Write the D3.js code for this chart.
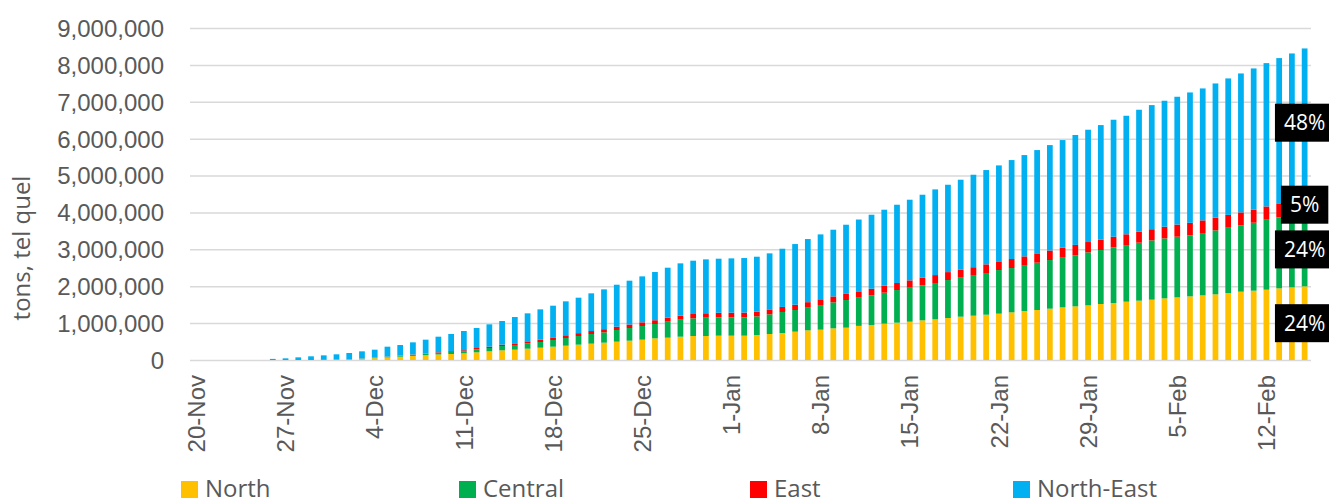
<!DOCTYPE html>
<html>
<head>
<meta charset="utf-8">
<script src="https://cdn.jsdelivr.net/npm/d3@7"></script>
<style>
  body { margin: 0; background: #fff; }
  svg { font-family: "Open Sans", sans-serif; }
</style>
</head>
<body>
<div id="chart"></div>
<script>
// daily cumulative tonnage, thousand tons, 20-Nov .. 15-Feb (88 days)
var north = [0,0,0,0,0,0,0,0,0,0,
  5,8,15,30,50,70,90,110,130,150,
  163,181,208,235,262,280,307,334,361,388,
  416,443,470,497,524,551,587,605,632,650,
  650,659,659,659,677,705,732,768,804,822,
  858,876,925,948,985,1012,1039,1075,1102,1138,
  1174,1201,1228,1256,1292,1328,1355,1391,1427,1454,
  1481,1518,1545,1581,1608,1635,1671,1698,1725,1752,
  1780,1816,1852,1879,1906,1942,1969,1996];

var central = [0,0,0,0,0,0,0,0,0,0,
  0,5,8,10,15,20,25,30,35,45,
  54,54,81,90,117,126,145,154,181,208,
  234,262,280,316,343,370,389,434,461,479,
  497,497,497,497,506,533,569,587,614,668,
  705,750,764,804,840,885,921,948,985,1030,
  1057,1084,1130,1183,1201,1228,1283,1319,1346,1386,
  1437,1463,1508,1535,1572,1608,1626,1644,1653,1690,
  1734,1770,1797,1843,1897,1924,1961,2004];

var east = [0,0,0,0,0,0,0,0,0,0,
  0,0,2,3,4,5,6,8,10,15,
  22,30,36,36,38,45,54,63,70,74,
  78,80,85,90,95,100,102,108,110,118,
  120,124,127,130,130,133,138,143,150,155,
  160,166,172,180,189,190,199,208,215,215,
  217,230,235,235,244,253,253,258,271,280,
  280,282,289,292,300,302,316,330,340,343,
  345,348,352,355,360,380,400,420];

var northEast = [0,0,0,0,0,0,30,45,72,100,
  121,141,165,192,211,266,285,331,376,422,
  466,521,542,606,640,714,759,822,860,920,
  961,1022,1080,1138,1188,1246,1307,1355,1417,1445,
  1461,1466,1472,1478,1487,1520,1578,1645,1711,1760,
  1809,1875,1947,2006,2060,2122,2186,2249,2323,2368,
  2439,2507,2556,2601,2683,2746,2800,2858,2918,2980,
  3044,3105,3171,3213,3304,3365,3415,3464,3535,3577,
  3638,3699,3767,3827,3885,3938,3980,4026];

var seriesNames = ["North", "Central", "East", "North-East"];
var seriesColors = ["#FFC000", "#00B050", "#FF0000", "#00B0F0"];

var days = d3.timeDay.range(new Date(2020, 10, 20), new Date(2021, 1, 16));
var dayLabel = d3.timeFormat("%-d-%b");
var xTickLabels = ["20-Nov","27-Nov","4-Dec","11-Dec","18-Dec","25-Dec","1-Jan",
  "8-Jan","15-Jan","22-Jan","29-Jan","5-Feb","12-Feb"];
var yTicks = [0,1000000,2000000,3000000,4000000,5000000,6000000,7000000,8000000,9000000];

function draw() {
  var width = 1329, height = 503;
  var plotLeft = 190, plotRight = 1311, plotTop = 28, plotBottom = 360;

  var rows = days.map(function(d, i) {
    return {
      day: dayLabel(d),
      North: north[i] * 1000,
      Central: central[i] * 1000,
      East: east[i] * 1000,
      "North-East": northEast[i] * 1000
    };
  });

  var stacked = d3.stack().keys(seriesNames)(rows);

  var x = d3.scaleBand()
    .domain(rows.map(function(d) { return d.day; }))
    .range([plotLeft, plotRight])
    .paddingInner(0.55)
    .paddingOuter(0.275);

  var y = d3.scaleLinear()
    .domain([0, 9000000])
    .range([plotBottom, plotTop]);

  var svg = d3.select("#chart").append("svg")
    .attr("width", width)
    .attr("height", height);

  // grid + y labels
  var yAxis = svg.append("g")
    .attr("transform", "translate(" + plotLeft + ",0)")
    .call(d3.axisLeft(y)
      .tickValues(yTicks)
      .tickSize(-(plotRight - plotLeft))
      .tickPadding(26)
      .tickFormat(d3.format(",")));
  yAxis.select(".domain").remove();
  yAxis.selectAll("line").attr("stroke", "#d9d9d9").attr("stroke-width", 1.5);
  yAxis.selectAll("text")
    .attr("fill", "#595959")
    .style("font-size", "24px")
    .attr("dy", "0.35em");

  // x labels
  var xAxis = svg.append("g")
    .attr("transform", "translate(0," + plotBottom + ")")
    .call(d3.axisBottom(x)
      .tickValues(xTickLabels)
      .tickSize(0));
  xAxis.select(".domain").remove();
  xAxis.selectAll("text")
    .attr("transform", "rotate(-90)")
    .attr("x", -15)
    .attr("y", 0)
    .attr("dy", "0.36em")
    .style("text-anchor", "end")
    .style("font-size", "24px")
    .attr("fill", "#595959");

  // stacked bars
  svg.append("g").selectAll("g")
    .data(stacked)
    .enter().append("g")
    .attr("fill", function(d, i) { return seriesColors[i]; })
    .selectAll("rect")
    .data(function(d) { return d; })
    .enter().append("rect")
    .attr("x", function(d) { return x(d.data.day); })
    .attr("y", function(d) { return y(d[1]); })
    .attr("width", x.bandwidth())
    .attr("height", function(d) { return y(d[0]) - y(d[1]); });

  // axis title
  svg.append("text")
    .attr("transform", "translate(22,248) rotate(-90)")
    .attr("dy", "0.35em")
    .style("text-anchor", "middle")
    .style("font-size", "24px")
    .attr("fill", "#595959")
    .text("tons, tel quel");

  // share labels on last bar
  var last = rows.length - 1;
  var total = d3.sum(seriesNames, function(k) { return rows[last][k]; });
  var labels = svg.append("g");
  stacked.forEach(function(s) {
    var seg = s[last];
    var cx = x(seg.data.day) + x.bandwidth() / 2;
    var cy = y((seg[0] + seg[1]) / 2);
    var g = labels.append("g");
    var box = g.append("rect").attr("fill", "#000");
    var t = g.append("text")
      .attr("x", cx)
      .attr("y", cy)
      .attr("dy", "0.35em")
      .style("text-anchor", "middle")
      .style("font-size", "21px")
      .attr("fill", "#fff")
      .text(Math.round((seg[1] - seg[0]) / total * 100) + "%");
    var w = t.node().getComputedTextLength() + 18;
    box.attr("x", cx - w / 2).attr("y", cy - 19).attr("width", w).attr("height", 38);
  });

  // legend
  var legendX = [181, 459, 750, 1013];
  var legend = svg.append("g");
  seriesNames.forEach(function(name, i) {
    legend.append("rect")
      .attr("x", legendX[i]).attr("y", 481)
      .attr("width", 17).attr("height", 17)
      .attr("fill", seriesColors[i]);
    legend.append("text")
      .attr("x", legendX[i] + 24).attr("y", 497)
      .style("font-size", "24px")
      .attr("fill", "#595959")
      .text(name);
  });
}

draw();
</script>
</body>
</html>
